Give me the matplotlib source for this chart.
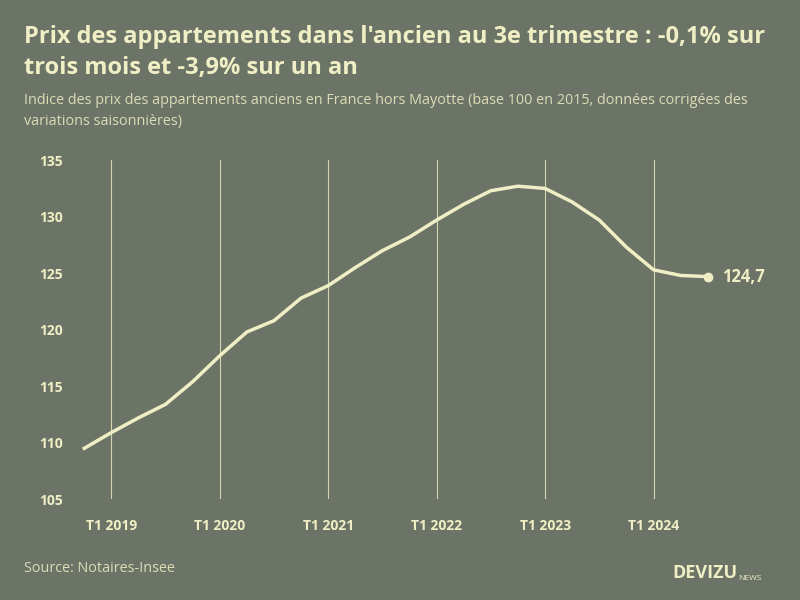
import matplotlib
matplotlib.use("Agg")
import matplotlib.pyplot as plt

quarters = list(range(24))  # T4 2018 .. T3 2024
values = [109.5, 110.9, 112.2, 113.4, 115.4, 117.7, 119.8, 120.8, 122.8, 123.9,
          125.5, 127.0, 128.2, 129.7, 131.1, 132.3, 132.7, 132.5, 131.3, 129.7,
          127.3, 125.3, 124.8, 124.7]
tick_pos = [1, 5, 9, 13, 17, 21]
tick_labels = ["T1 2019", "T1 2020", "T1 2021", "T1 2022", "T1 2023", "T1 2024"]
yticks = [105, 110, 115, 120, 125, 130, 135]

bg = "#6b7466"
fg = "#f0eec4"
plt.rcParams["font.family"] = "Open Sans"
fig = plt.figure(figsize=(8, 6), dpi=100, facecolor=bg)
ax = fig.add_axes([0.085, 0.168, 0.82, 0.565], facecolor=bg)
for t in tick_pos:
    ax.axvline(t, color=fg, lw=0.8, alpha=0.8, zorder=1)
ax.plot(quarters, values, color=fg, lw=2.5, zorder=3)
ax.plot(quarters[-1], values[-1], "o", color=fg, ms=6, zorder=4)
ax.annotate("124,7", (quarters[-1], values[-1]), xytext=(10, 0), textcoords="offset points",
            va="center", color=fg, fontsize=12, fontweight="bold")
ax.set_xlim(-0.6, 23.6)
ax.set_ylim(105, 135)
ax.set_xticks(tick_pos)
ax.set_xticklabels(tick_labels)
ax.set_yticks(yticks)
ax.tick_params(colors=fg, length=0, labelsize=10)
ax.tick_params(axis="x", pad=14)
for l in ax.get_xticklabels() + ax.get_yticklabels():
    l.set_fontweight("bold")
for s in ax.spines.values():
    s.set_visible(False)

fig.text(0.03, 0.958, "Prix des appartements dans l'ancien au 3e trimestre : -0,1% sur\ntrois mois et -3,9% sur un an",
         color=fg, fontsize=17, fontweight="bold", va="top", linespacing=1.4)
fig.text(0.03, 0.845, "Indice des prix des appartements anciens en France hors Mayotte (base 100 en 2015, données corrigées des\nvariations saisonnières)",
         color=fg, fontsize=10.4, va="top", alpha=0.85, linespacing=1.5)
fig.text(0.03, 0.052, "Source: Notaires-Insee", color=fg, fontsize=10.4, alpha=0.85, va="center")
fig.text(0.84, 0.045, "DEVIZU", color=fg, fontsize=13, fontweight="bold", va="center")
fig.text(0.923, 0.036, "NEWS", color=fg, fontsize=6, va="center")
fig.savefig("out.png", facecolor=bg)
